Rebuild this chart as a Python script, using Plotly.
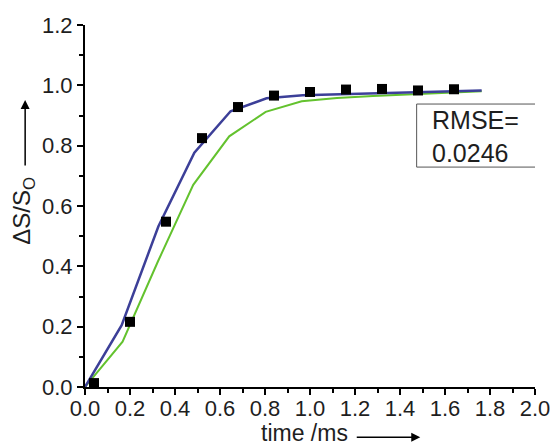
import plotly.graph_objects as go

# Measured data
t_meas = [0.04, 0.20, 0.36, 0.52, 0.68, 0.84, 1.00, 1.16, 1.32, 1.48, 1.64]
s_meas = [0.013, 0.216, 0.548, 0.825, 0.928, 0.966, 0.978, 0.986, 0.988, 0.983, 0.987]

# Blue fit
t_blue = [0.0, 0.163, 0.326, 0.486, 0.647, 0.807, 0.968, 1.13, 1.29, 1.45, 1.61, 1.763]
s_blue = [0.0, 0.205, 0.532, 0.777, 0.914, 0.957, 0.967, 0.970, 0.975, 0.978, 0.981, 0.983]

# Green fit
t_green = [0.0, 0.167, 0.324, 0.481, 0.641, 0.803, 0.963, 1.12, 1.28, 1.44, 1.60, 1.763]
s_green = [0.0, 0.150, 0.416, 0.670, 0.831, 0.912, 0.947, 0.958, 0.965, 0.970, 0.975, 0.980]

x_ticks = [0.0, 0.2, 0.4, 0.6, 0.8, 1.0, 1.2, 1.4, 1.6, 1.8, 2.0]
y_ticks = [0.0, 0.2, 0.4, 0.6, 0.8, 1.0, 1.2]

FONT = "Liberation Sans, Arial, sans-serif"
TXT = "#1e1e1e"

fig = go.Figure()
fig.add_trace(go.Scatter(x=t_green, y=s_green, mode="lines",
                         line=dict(color="#63c22e", width=2), showlegend=False))
fig.add_trace(go.Scatter(x=t_blue, y=s_blue, mode="lines",
                         line=dict(color="#3c3f98", width=2.5), showlegend=False))
fig.add_trace(go.Scatter(x=t_meas, y=s_meas, mode="markers",
                         marker=dict(symbol="square", color="black", size=10), showlegend=False))

axis_common = dict(
    showline=True, linecolor="black", linewidth=2, mirror=False,
    showgrid=False, zeroline=False, automargin=False,
    ticks="outside", ticklen=6, tickwidth=2, tickcolor="black",
    tickfont=dict(family=FONT, size=22, color=TXT),
    minor=dict(ticks="outside", ticklen=4, tickwidth=2, tickcolor="black", dtick=0.1),
)

fig.update_xaxes(range=[0, 2.0], tickvals=x_ticks, ticktext=[f"{v:.1f}" for v in x_ticks],
                 ticklabelstandoff=-5, **axis_common)
fig.update_yaxes(range=[0, 1.2], tickvals=y_ticks, ticktext=[f"{v:.1f}" for v in y_ticks],
                 **axis_common)

# RMSE box
fig.add_shape(type="rect", xref="x", yref="y", x0=1.474, x1=2.003, y0=0.729, y1=0.938,
              line=dict(color="#555", width=1), fillcolor="white")
fig.add_annotation(xref="x", yref="y", x=1.535, y=0.830, xanchor="left", yanchor="middle",
                   text="RMSE=<br>0.0246", showarrow=False, align="left",
                   font=dict(family=FONT, size=25, color=TXT))

# Axis titles with arrows
fig.add_annotation(xref="paper", yref="paper", x=0.589, y=-0.127, xanchor="right", yanchor="middle",
                   text="time /ms", showarrow=False,
                   font=dict(family=FONT, size=23, color=TXT))
fig.add_annotation(xref="paper", yref="paper", x=0.745, y=-0.139, ax=-65, ay=0,
                   axref="pixel", ayref="pixel", text="", showarrow=True,
                   arrowhead=2, arrowsize=1.2, arrowwidth=1.5, arrowcolor="black")

fig.add_annotation(xref="paper", yref="paper", x=-0.136, y=0.387, xanchor="center", yanchor="bottom",
                   text="ΔS/S<sub>O</sub>", textangle=-90, showarrow=False,
                   font=dict(family=FONT, size=24, color=TXT))
fig.add_annotation(xref="paper", yref="paper", x=-0.133, y=0.793, ax=0, ay=67,
                   axref="pixel", ayref="pixel", text="", showarrow=True,
                   arrowhead=2, arrowsize=1.2, arrowwidth=1.5, arrowcolor="black")

fig.update_layout(
    width=553, height=442,
    margin=dict(l=85, r=18, t=25, b=55),
    paper_bgcolor="white", plot_bgcolor="white",
)

fig.write_html("out.html", config={"displayModeBar": False},
               post_script="document.body.style.margin='0';document.body.style.overflow='hidden';")
